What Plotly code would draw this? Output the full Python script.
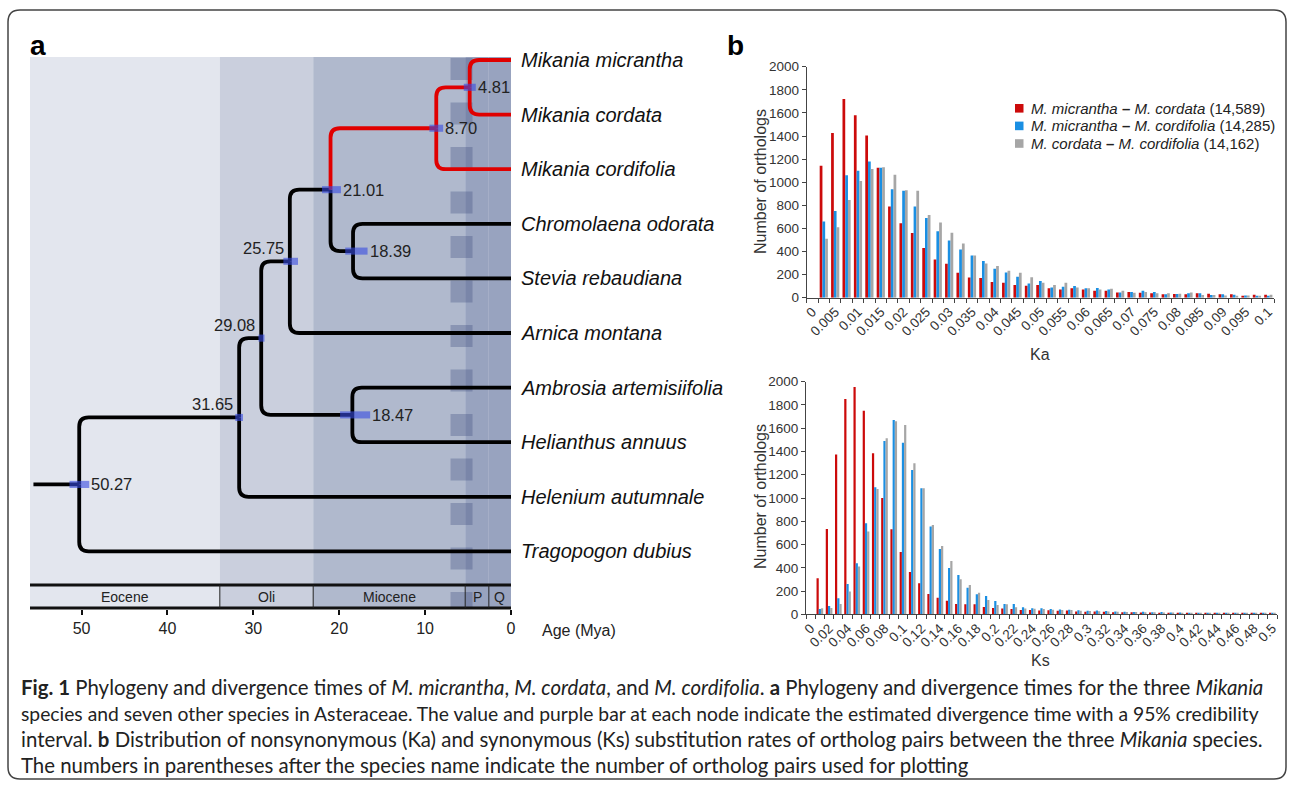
import plotly.graph_objects as go

W, H = 1293, 789
def fx(x): return x / W
def fy(y): return 1 - y / H

ARIAL = "Liberation Sans, Arial, sans-serif"

# ---------------- Panel a: phylogeny data ----------------
tip_names = ["Mikania micrantha", "Mikania cordata", "Mikania cordifolia",
             "Chromolaena odorata", "Stevia rebaudiana", "Arnica montana",
             "Ambrosia artemisiifolia", "Helianthus annuus", "Helenium autumnale",
             "Tragopogon dubius"]
node_ages = [4.81, 8.70, 18.39, 21.01, 25.75, 18.47, 29.08, 31.65, 50.27]
node_children = [("t0", "t1"), ("n0", "t2"), ("t3", "t4"), ("n1", "n2"), ("n3", "t5"),
                 ("t6", "t7"), ("n4", "n5"), ("n6", "t8"), ("n7", "t9")]
ci_young = [4.1, 7.9, 16.7, 19.8, 24.8, 16.4, 28.7, 31.2, 49.1]
ci_old = [5.5, 9.5, 19.3, 22.0, 26.5, 19.9, 29.4, 32.1, 51.4]
label_side = ["right", "right", "right", "right", "above", "right", "above", "above", "right"]
red_clade = {"t0", "t1", "t2", "n0", "n1"}
root_stem_start = 55.6

epoch_names = ["Eocene", "Oli", "Miocene", "P", "Q"]
epoch_start = [56.0, 33.9, 23.03, 5.333, 2.58]
epoch_end = [33.9, 23.03, 5.333, 2.58, 0.0]
epoch_colors = ["#e3e6ee", "#cacfdd", "#b0b9cd", "#98a3bf", "#98a3bf"]
age_ticks = [50, 40, 30, 20, 10, 0]

# ---------------- Panel b: Ka / Ks distributions ----------------
ka_tick_labels = ["0", "0.005", "0.01", "0.015", "0.02", "0.025", "0.03", "0.035", "0.04",
                  "0.045", "0.05", "0.055", "0.06", "0.065", "0.07", "0.075", "0.08",
                  "0.085", "0.09", "0.095", "0.1"]
ka_mm_mc = [0, 1143, 1425, 1720, 1580, 1405, 1125, 790, 645, 560,
            430, 330, 295, 215, 175, 170, 135, 130, 110, 104,
            110, 81, 72, 81, 72, 61, 61, 46, 49, 43,
            38, 29, 32, 29, 38, 35, 29, 29, 17, 26, 26]
ka_mm_mcf = [0, 660, 750, 1060, 1100, 1180, 1125, 940, 925, 790,
             690, 575, 495, 418, 366, 317, 251, 219, 182, 124,
             144, 89, 95, 101, 81, 84, 72, 46, 49, 61,
             49, 29, 32, 38, 38, 23, 29, 26, 20, 17, 17]
ka_mc_mcf = [0, 510, 610, 845, 1010, 1115, 1130, 1065, 930, 925,
             716, 652, 563, 470, 366, 297, 274, 234, 216, 176,
             130, 110, 130, 89, 81, 72, 78, 61, 43, 49,
             38, 38, 35, 46, 23, 23, 20, 14, 20, 14, 26]

ks_tick_labels = ["0", "0.02", "0.04", "0.06", "0.08", "0.1", "0.12", "0.14", "0.16", "0.18",
                  "0.2", "0.22", "0.24", "0.26", "0.28", "0.3", "0.32", "0.34", "0.36",
                  "0.38", "0.4", "0.42", "0.44", "0.46", "0.48", "0.5"]
ks_mm_mc = [0, 309, 733, 1375, 1851, 1955, 1751, 1384, 1000, 731,
            536, 364, 266, 175, 143, 117, 89, 86, 86, 63,
            54, 49, 45, 38, 37, 33, 35, 30, 32, 25,
            22, 25, 22, 18, 17, 17, 15, 16, 14, 13,
            12, 12, 11, 12, 10, 10, 9, 10, 9, 8, 8]
ks_mm_mcf = [0, 46, 72, 138, 261, 438, 782, 1092, 1490, 1670,
             1476, 1241, 1083, 754, 562, 398, 338, 229, 172, 158,
             115, 89, 89, 60, 52, 52, 45, 42, 40, 35,
             30, 32, 28, 25, 22, 20, 22, 18, 19, 16,
             15, 14, 13, 13, 12, 14, 11, 10, 10, 9, 9]
ks_mc_mcf = [0, 52, 54, 89, 195, 410, 711, 1077, 1513, 1660,
             1627, 1298, 1083, 768, 587, 458, 301, 252, 186, 123,
             80, 86, 60, 50, 48, 45, 40, 38, 36, 30,
             28, 27, 25, 22, 20, 19, 18, 17, 16, 15,
             14, 13, 12, 12, 11, 11, 10, 10, 9, 9, 8]

pair_names = ["<i>M. micrantha</i> <b>\u2013</b> <i>M. cordata</i> (14,589)",
              "<i>M. micrantha</i> <b>\u2013</b> <i>M. cordifolia</i> (14,285)",
              "<i>M. cordata</i> <b>\u2013</b> <i>M. cordifolia</i> (14,162)"]
pair_colors = ["#cc0a0a", "#1a8fe3", "#a6a6a6"]

caption_lines = [
    "<b>Fig. 1</b> Phylogeny and divergence times of <i>M. micrantha</i>, <i>M. cordata</i>, and <i>M. cordifolia</i>. <b>a</b> Phylogeny and divergence times for the three <i>Mikania</i>",
    "species and seven other species in Asteraceae. The value and purple bar at each node indicate the estimated divergence time with a 95% credibility",
    "interval. <b>b</b> Distribution of nonsynonymous (Ka) and synonymous (Ks) substitution rates of ortholog pairs between the three <i>Mikania</i> species.",
    "The numbers in parentheses after the species name indicate the number of ortholog pairs used for plotting",
]
caption_sizes = [20.4, 19.3, 20.4, 20.4]

# ---------------- Build figure ----------------
fig = go.Figure()

# invisible anchor trace for the tree axes
fig.add_trace(go.Scatter(x=[0] * len(tip_names), y=list(range(len(tip_names))), mode="markers",
                         marker=dict(opacity=0), hoverinfo="skip", showlegend=False,
                         xaxis="x", yaxis="y"))

ka_x = list(range(len(ka_mm_mc)))
ks_x = list(range(len(ks_mm_mc)))
for name, col, vals in zip(pair_names, pair_colors, [ka_mm_mc, ka_mm_mcf, ka_mc_mcf]):
    fig.add_trace(go.Bar(x=ka_x, y=vals, name=name, marker=dict(color=col, line=dict(width=0)),
                         xaxis="x2", yaxis="y2", legendgroup=name, showlegend=False))
for name, col, vals in zip(pair_names, pair_colors, [ks_mm_mc, ks_mm_mcf, ks_mc_mcf]):
    fig.add_trace(go.Bar(x=ks_x, y=vals, name=name, marker=dict(color=col, line=dict(width=0)),
                         xaxis="x3", yaxis="y3", legendgroup=name, showlegend=False))

shapes = []
annotations = []

# outer rounded border
bx0, bx1, by0, by1, r = 8, 1286, 10, 779, 12
rx, ry = r / W, r / H
X0, X1, Y0, Y1 = fx(bx0), fx(bx1), fy(by1), fy(by0)
border = (f"M {X0+rx},{Y1} L {X1-rx},{Y1} Q {X1},{Y1} {X1},{Y1-ry} L {X1},{Y0+ry} "
          f"Q {X1},{Y0} {X1-rx},{Y0} L {X0+rx},{Y0} Q {X0},{Y0} {X0},{Y0+ry} "
          f"L {X0},{Y1-ry} Q {X0},{Y1} {X0+rx},{Y1} Z")
shapes.append(dict(type="path", xref="paper", yref="paper", path=border,
                   line=dict(color="#444", width=1.5)))

# epoch bands (tree background + timescale bar)
for s, e, c in zip(epoch_start, epoch_end, epoch_colors):
    shapes.append(dict(type="rect", xref="x", yref="paper", x0=s, x1=e, y0=fy(608), y1=fy(57),
                       fillcolor=c, line=dict(width=0), layer="below"))
# dashed translucent column
shapes.append(dict(type="line", xref="x", yref="paper", x0=5.76, x1=5.76, y0=fy(58), y1=fy(608),
                   line=dict(color="rgba(60,75,125,0.32)", width=22, dash="22px,22.5px")))

# timescale bar lines
for yy in (585, 608):
    shapes.append(dict(type="line", xref="x", yref="paper", x0=56, x1=0, y0=fy(yy), y1=fy(yy),
                       line=dict(color="#111", width=3)))
for b in epoch_start[1:]:
    shapes.append(dict(type="line", xref="x", yref="paper", x0=b, x1=b, y0=fy(585), y1=fy(608),
                       line=dict(color="#222", width=1)))
for nm, s, e in zip(epoch_names, epoch_start, epoch_end):
    annotations.append(dict(x=(s + e) / 2, y=fy(597), xref="x", yref="paper", text=nm,
                            showarrow=False, font=dict(family=ARIAL, size=14, color="#222"),
                            xanchor="center", yanchor="middle"))

# tree geometry
ypos = {f"t{i}": float(i) for i in range(len(tip_names))}
agepos = {f"t{i}": 0.0 for i in range(len(tip_names))}
for i, (a, ch) in enumerate(zip(node_ages, node_children)):
    ypos[f"n{i}"] = (ypos[ch[0]] + ypos[ch[1]]) / 2
    agepos[f"n{i}"] = a

def branch_path(a_p, y_p, a_c, y_c, rxa=1.1, rya=0.17):
    s = 1 if y_c > y_p else -1
    dy = abs(y_c - y_p)
    r_y = min(rya, dy)
    r_x = rxa * r_y / rya
    return (f"M {a_p},{y_p} L {a_p},{y_c - s * r_y} Q {a_p},{y_c} {a_p - r_x},{y_c} "
            f"L {a_c},{y_c}")

tree_shapes = []
for i, ch in enumerate(node_children):
    p = f"n{i}"
    for c in ch:
        col = "#e00000" if c in red_clade else "#000000"
        tree_shapes.append((col, branch_path(agepos[p], ypos[p], agepos[c], ypos[c])))
root = f"n{len(node_ages) - 1}"
tree_shapes.append(("#000000", f"M {root_stem_start},{ypos[root]} L {agepos[root]},{ypos[root]}"))
# draw black first, red on top
for col, path in sorted(tree_shapes, key=lambda t: t[0] != "#000000"):
    shapes.append(dict(type="path", xref="x", yref="y", path=path,
                       line=dict(color=col, width=3.8)))

# credibility bars
for i, (lo, hi) in enumerate(zip(ci_young, ci_old)):
    yn = ypos[f"n{i}"]
    shapes.append(dict(type="rect", xref="x", yref="y", x0=hi, x1=lo, y0=yn - 0.065, y1=yn + 0.065,
                       fillcolor="rgba(55,75,225,0.6)", line=dict(width=0)))

# node labels
for i, a in enumerate(node_ages):
    yn = ypos[f"n{i}"]
    if label_side[i] == "right":
        annotations.append(dict(x=ci_young[i], y=yn, xref="x", yref="y", text=f"{a:.2f}",
                                showarrow=False, xanchor="left", yanchor="middle", xshift=0,
                                font=dict(family=ARIAL, size=16.5, color="#222")))
    else:
        annotations.append(dict(x=a, y=yn, xref="x", yref="y", text=f"{a:.2f}",
                                showarrow=False, xanchor="right", yanchor="middle", xshift=-4,
                                yshift=13, font=dict(family=ARIAL, size=16.5, color="#222")))

# tip labels
for i, nm in enumerate(tip_names):
    annotations.append(dict(x=0, y=i, xref="x", yref="y", text=f"<i>{nm}</i>", showarrow=False,
                            xanchor="left", yanchor="middle", xshift=8,
                            font=dict(family=ARIAL, size=20, color="#111")))

# compact legend for panel b (square swatch + label per ortholog pair)
leg_x, leg_y0, leg_dy = 1015, 108.3, 17.6
for k, (name, col) in enumerate(zip(pair_names, pair_colors)):
    yc = leg_y0 + k * leg_dy
    shapes.append(dict(type="rect", xref="paper", yref="paper", x0=fx(leg_x), x1=fx(leg_x + 8.5),
                       y0=fy(yc + 4.3), y1=fy(yc - 4.3), fillcolor=col, line=dict(width=0)))
    annotations.append(dict(x=fx(leg_x + 14), y=fy(yc), xref="paper", yref="paper", text=name,
                            showarrow=False, xanchor="left", yanchor="middle",
                            font=dict(family=ARIAL, size=15, color="#222")))

# panel letters, axis titles
annotations += [
    dict(x=fx(28), y=fy(45), xref="paper", yref="paper", text="<b>a</b>", showarrow=False,
         xanchor="left", yanchor="middle", font=dict(family=ARIAL, size=28, color="#000")),
    dict(x=fx(725), y=fy(45), xref="paper", yref="paper", text="<b>b</b>", showarrow=False,
         xanchor="left", yanchor="middle", font=dict(family=ARIAL, size=28, color="#000")),
    dict(x=fx(540), y=fy(630), xref="paper", yref="paper", text="Age (Mya)", showarrow=False,
         xanchor="left", yanchor="middle", font=dict(family=ARIAL, size=16, color="#222")),
    dict(x=fx(760), y=fy(182), xref="paper", yref="paper", text="Number of orthologs",
         showarrow=False, textangle=-90, xanchor="center", yanchor="middle",
         font=dict(family=ARIAL, size=16, color="#333")),
    dict(x=fx(760), y=fy(497), xref="paper", yref="paper", text="Number of orthologs",
         showarrow=False, textangle=-90, xanchor="center", yanchor="middle",
         font=dict(family=ARIAL, size=16, color="#333")),
    dict(x=fx(1040), y=fy(354), xref="paper", yref="paper", text="Ka", showarrow=False,
         xanchor="center", yanchor="middle", font=dict(family=ARIAL, size=16, color="#333")),
    dict(x=fx(1040), y=fy(660), xref="paper", yref="paper", text="Ks", showarrow=False,
         xanchor="center", yanchor="middle", font=dict(family=ARIAL, size=16, color="#333")),
]
for k, (line, sz) in enumerate(zip(caption_lines, caption_sizes)):
    annotations.append(dict(x=fx(19), y=fy(687 + 26 * k), xref="paper", yref="paper", text=line,
                            showarrow=False, xanchor="left", yanchor="middle",
                            font=dict(family="Lato, sans-serif", size=sz, color="#222")))

def bar_xaxis(domain, n, labels, anchor):
    return dict(domain=domain, anchor=anchor, range=[-0.5, n - 0.5], tickmode="array",
                tickvals=list(range(0, n, 2)), ticktext=labels, ticks="", tickangle=-45,
                showgrid=False, zeroline=False, showline=True, linecolor="#444", linewidth=1,
                tickfont=dict(family=ARIAL, size=13.5, color="#333"),
                minor=dict(tickmode="array", tickvals=[i - 0.5 for i in range(n + 1)],
                           ticks="outside", ticklen=4, tickcolor="#444", showgrid=False))

def bar_yaxis(domain, anchor):
    return dict(domain=domain, anchor=anchor, range=[0, 2000], dtick=200, ticks="outside",
                ticklen=4, tickcolor="#444", showgrid=False, zeroline=False, showline=True,
                linecolor="#444", linewidth=1, tickfont=dict(family=ARIAL, size=13.5, color="#333"))

fig.update_layout(
    width=W, height=H, margin=dict(l=0, r=0, t=0, b=0), template="none",
    paper_bgcolor="white", plot_bgcolor="rgba(0,0,0,0)",
    barmode="group", bargap=0.28, bargroupgap=0,
    xaxis=dict(domain=[fx(30), fx(511)], range=[56, 0], tickmode="array", tickvals=age_ticks,
               ticks="outside", ticklen=5, tickwidth=2, tickcolor="#111", showgrid=False,
               zeroline=False, showline=False, anchor="y",
               tickfont=dict(family=ARIAL, size=16, color="#222")),
    yaxis=dict(domain=[fy(609), fy(50)], range=[(609 - 60) / 54.6, (50 - 60) / 54.6],
               visible=False, anchor="x"),
    xaxis2=bar_xaxis([fx(806.7), fx(1274)], len(ka_x), ka_tick_labels, "y2"),
    yaxis2=bar_yaxis([fy(297.7), fy(66.7)], "x2"),
    xaxis3=bar_xaxis([fx(806), fx(1277)], len(ks_x), ks_tick_labels, "y3"),
    yaxis3=bar_yaxis([fy(614.3), fy(381.7)], "x3"),
    shapes=shapes, annotations=annotations, showlegend=False,
)

fig.write_html("out.html", post_script="document.body.style.margin='0px';",
               config={"displayModeBar": False})
